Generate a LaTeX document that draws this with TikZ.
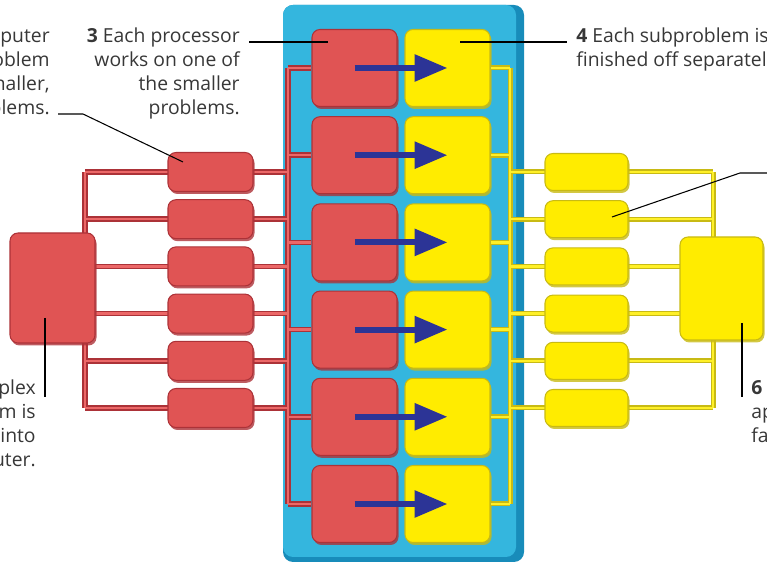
\documentclass[tikz,border=0pt]{standalone}
\usepackage{fontspec}
\setmainfont{Open Sans}
\usetikzlibrary{arrows.meta,shadows}
\definecolor{panelblue}{RGB}{52,182,222}
\definecolor{paneldark}{RGB}{24,140,186}
\definecolor{cpured}{RGB}{224,84,84}
\definecolor{cpuedge}{RGB}{172,50,56}
\definecolor{wirered}{RGB}{236,104,104}
\definecolor{subyellow}{RGB}{255,236,0}
\definecolor{subedge}{RGB}{200,186,20}
\definecolor{wireyellow}{RGB}{255,240,40}
\definecolor{jobnavy}{RGB}{44,52,150}
\definecolor{textgrey}{RGB}{55,55,55}
\tikzset{
  panel/.style={fill=panelblue, rounded corners=0.2cm},
  panelshade/.style={fill=paneldark, rounded corners=0.2cm},
  redbox/.style={fill=cpured, draw=cpuedge, line width=0.6pt, rounded corners=0.16cm, inner sep=0pt,
    drop shadow={shadow xshift=0.03cm, shadow yshift=-0.05cm, fill=cpuedge, opacity=0.8}},
  yellowbox/.style={fill=subyellow, draw=subedge, line width=0.6pt, rounded corners=0.16cm, inner sep=0pt,
    drop shadow={shadow xshift=0.03cm, shadow yshift=-0.05cm, fill=subedge, opacity=0.8}},
  cpubox/.style={redbox, minimum width=1.70cm, minimum height=1.54cm},
  subbox/.style={yellowbox, minimum width=1.70cm, minimum height=1.54cm},
  partbox/.style={redbox, minimum width=1.70cm, minimum height=0.78cm},
  ansbox/.style={yellowbox, minimum width=1.66cm, minimum height=0.74cm},
  redout/.style={line width=0.11cm, draw=cpuedge, line cap=butt},
  redfill/.style={line width=0.05cm, draw=wirered, line cap=butt},
  yellowout/.style={line width=0.10cm, draw=subedge, line cap=butt},
  yellowfill/.style={line width=0.05cm, draw=wireyellow, line cap=butt},
  job/.style={line width=0.12cm, draw=jobnavy, -{Triangle[length=0.66cm, width=0.52cm]}},
  note/.style={font=\fontsize{11}{13.66}\selectfont, text=textgrey, inner sep=0pt},
  leader/.style={line width=0.6pt, draw=black},
}

\begin{document}
\begin{tikzpicture}
\useasboundingbox (0,0) rectangle (15.34,11.3);
\fill[panelshade] (5.66,0.06) rectangle (10.48,11.2);
\fill[panel] (5.66,0.16) rectangle (10.32,11.2);
\node[cpubox] (cpu1) at (7.09,9.940) {};
\node[cpubox] (cpu2) at (7.09,8.196) {};
\node[cpubox] (cpu3) at (7.09,6.452) {};
\node[cpubox] (cpu4) at (7.09,4.708) {};
\node[cpubox] (cpu5) at (7.09,2.964) {};
\node[cpubox] (cpu6) at (7.09,1.220) {};
\node[subbox] (sub1) at (8.95,9.940) {};
\node[subbox] (sub2) at (8.95,8.196) {};
\node[subbox] (sub3) at (8.95,6.452) {};
\node[subbox] (sub4) at (8.95,4.708) {};
\node[subbox] (sub5) at (8.95,2.964) {};
\node[subbox] (sub6) at (8.95,1.220) {};
\coordinate (ltop) at (1.70,7.860);
\coordinate (lbot) at (1.70,3.140);
\coordinate (mtop) at (5.76,9.940);
\coordinate (mbot) at (5.76,1.220);
\coordinate (ntop) at (10.20,9.940);
\coordinate (nbot) at (10.20,1.220);
\coordinate (rtop) at (14.26,7.860);
\coordinate (rbot) at (14.26,3.140);
\coordinate (part1) at (4.21,7.860);
\coordinate (part2) at (4.21,6.916);
\coordinate (part3) at (4.21,5.972);
\coordinate (part4) at (4.21,5.028);
\coordinate (part5) at (4.21,4.084);
\coordinate (part6) at (4.21,3.140);
\draw[redout] (ltop) -- (lbot);
\draw[redout] (mtop) -- (mbot);
\draw[redout] (ltop) -- (mtop |- part1);
\draw[redout] (ltop |- part2) -- (mtop |- part2);
\draw[redout] (ltop |- part3) -- (mtop |- part3);
\draw[redout] (ltop |- part4) -- (mtop |- part4);
\draw[redout] (ltop |- part5) -- (mtop |- part5);
\draw[redout] (lbot) -- (mtop |- part6);
\draw[redout] (mtop) -- (cpu1.west);
\draw[redout] (mtop |- cpu2) -- (cpu2.west);
\draw[redout] (mtop |- cpu3) -- (cpu3.west);
\draw[redout] (mtop |- cpu4) -- (cpu4.west);
\draw[redout] (mtop |- cpu5) -- (cpu5.west);
\draw[redout] (mbot) -- (cpu6.west);
\draw[redfill] (ltop) -- (lbot);
\draw[redfill] (mtop) -- (mbot);
\draw[redfill] (ltop) -- (mtop |- part1);
\draw[redfill] (ltop |- part2) -- (mtop |- part2);
\draw[redfill] (ltop |- part3) -- (mtop |- part3);
\draw[redfill] (ltop |- part4) -- (mtop |- part4);
\draw[redfill] (ltop |- part5) -- (mtop |- part5);
\draw[redfill] (lbot) -- (mtop |- part6);
\draw[redfill] (mtop) -- (cpu1.west);
\draw[redfill] (mtop |- cpu2) -- (cpu2.west);
\draw[redfill] (mtop |- cpu3) -- (cpu3.west);
\draw[redfill] (mtop |- cpu4) -- (cpu4.west);
\draw[redfill] (mtop |- cpu5) -- (cpu5.west);
\draw[redfill] (mbot) -- (cpu6.west);
\draw[yellowout] (ntop) -- (nbot);
\draw[yellowout] (rtop) -- (rbot);
\draw[yellowout] (sub1.east) -- (ntop);
\draw[yellowout] (sub2.east) -- (ntop |- sub2);
\draw[yellowout] (sub3.east) -- (ntop |- sub3);
\draw[yellowout] (sub4.east) -- (ntop |- sub4);
\draw[yellowout] (sub5.east) -- (ntop |- sub5);
\draw[yellowout] (sub6.east) -- (nbot);
\draw[yellowout] (ntop |- part1) -- (rtop);
\draw[yellowout] (ntop |- part2) -- (rtop |- part2);
\draw[yellowout] (ntop |- part3) -- (rtop |- part3);
\draw[yellowout] (ntop |- part4) -- (rtop |- part4);
\draw[yellowout] (ntop |- part5) -- (rtop |- part5);
\draw[yellowout] (ntop |- part6) -- (rbot);
\draw[yellowfill] (ntop) -- (nbot);
\draw[yellowfill] (rtop) -- (rbot);
\draw[yellowfill] (sub1.east) -- (ntop);
\draw[yellowfill] (sub2.east) -- (ntop |- sub2);
\draw[yellowfill] (sub3.east) -- (ntop |- sub3);
\draw[yellowfill] (sub4.east) -- (ntop |- sub4);
\draw[yellowfill] (sub5.east) -- (ntop |- sub5);
\draw[yellowfill] (sub6.east) -- (nbot);
\draw[yellowfill] (ntop |- part1) -- (rtop);
\draw[yellowfill] (ntop |- part2) -- (rtop |- part2);
\draw[yellowfill] (ntop |- part3) -- (rtop |- part3);
\draw[yellowfill] (ntop |- part4) -- (rtop |- part4);
\draw[yellowfill] (ntop |- part5) -- (rtop |- part5);
\draw[yellowfill] (ntop |- part6) -- (rbot);
\node[redbox, minimum width=1.70cm, minimum height=2.20cm] (problem) at (1.05,5.54) {};
\node[partbox] (piece1) at (part1) {};
\node[partbox] (piece2) at (part2) {};
\node[partbox] (piece3) at (part3) {};
\node[partbox] (piece4) at (part4) {};
\node[partbox] (piece5) at (part5) {};
\node[partbox] (piece6) at (part6) {};
\node[ansbox] (ans1) at (11.73,7.860) {};
\node[ansbox] (ans2) at (11.73,6.916) {};
\node[ansbox] (ans3) at (11.73,5.972) {};
\node[ansbox] (ans4) at (11.73,5.028) {};
\node[ansbox] (ans5) at (11.73,4.084) {};
\node[ansbox] (ans6) at (11.73,3.140) {};
\node[yellowbox, minimum width=1.66cm, minimum height=2.06cm] (answer) at (14.43,5.53) {};
\draw[job] (cpu1.center) -- (sub1.center);
\draw[job] (cpu2.center) -- (sub2.center);
\draw[job] (cpu3.center) -- (sub3.center);
\draw[job] (cpu4.center) -- (sub4.center);
\draw[job] (cpu5.center) -- (sub5.center);
\draw[job] (cpu6.center) -- (sub6.center);
\node[note, align=right, anchor=base east] (split) at (1.00,9.00) {puter\\oblem\\naller,\\blems.};
\node[note, align=right, anchor=base east] (each) at (4.80,9.00) {\textbf{3} Each processor\\works on one of\\the smaller\\problems.};
\node[note, align=left, anchor=base west] (finish) at (11.52,9.96) {\textbf{4} Each subproblem is\\finished off separatel};
\node[note, align=right, anchor=base east] (input) at (0.72,1.96) {plex\\m is\\into\\uter.};
\node[note, align=left, anchor=base west] (faster) at (15.02,2.44) {\textbf{6}\\ap\\fa};
\coordinate (pin2a) at (1.16,9.02);
\coordinate (pin2b) at (1.66,9.02);
\coordinate (pin2c) at (3.66,8.06);
\coordinate (pin3a) at (4.98,10.46);
\coordinate (pin3b) at (6.56,10.46);
\coordinate (pin4a) at (9.20,10.46);
\coordinate (pin4b) at (11.34,10.46);
\coordinate (pin1a) at (0.90,4.94);
\coordinate (pin1b) at (0.90,3.36);
\coordinate (pin5a) at (12.24,6.96);
\coordinate (pin5b) at (14.80,7.84);
\coordinate (pin5c) at (15.34,7.84);
\coordinate (pin6a) at (14.84,4.84);
\coordinate (pin6b) at (14.84,3.36);
\draw[leader] (pin2a) -- (pin2b) -- (pin2c);
\draw[leader] (pin3a) -- (pin3b);
\draw[leader] (pin4a) -- (pin4b);
\draw[leader] (pin1a) -- (pin1b);
\draw[leader] (pin5a) -- (pin5b) -- (pin5c);
\draw[leader] (pin6a) -- (pin6b);
\end{tikzpicture}
\end{document}
